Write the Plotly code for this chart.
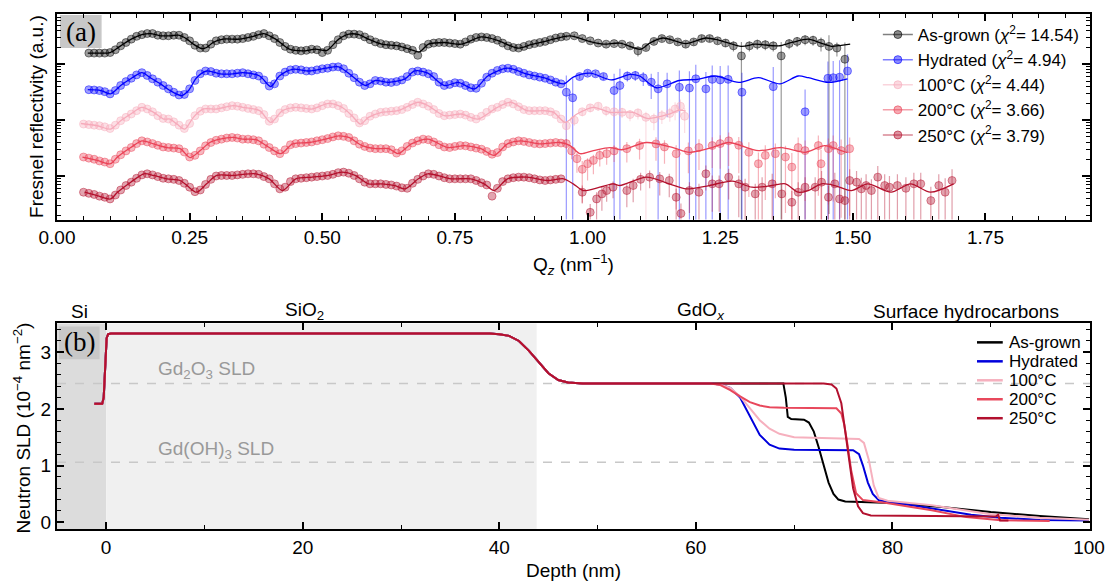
import numpy as np
import plotly.graph_objects as go

# ===================== Panel (a): Fresnel reflectivity (log10, offset, a.u.) =====================
q_lo_a = [0.06, 0.07, 0.08, 0.09, 0.10, 0.11, 0.12, 0.13, 0.14, 0.15,
          0.16, 0.17, 0.18, 0.19, 0.20, 0.21, 0.22, 0.23, 0.24, 0.25,
          0.26, 0.27, 0.28, 0.29, 0.30, 0.31, 0.32, 0.33, 0.34, 0.35,
          0.36, 0.37, 0.38, 0.39, 0.40, 0.41, 0.42, 0.43, 0.44, 0.45,
          0.46, 0.47, 0.48, 0.49, 0.50, 0.51, 0.52, 0.53, 0.54, 0.55,
          0.56, 0.57, 0.58, 0.59, 0.60, 0.61, 0.62, 0.63, 0.64, 0.65,
          0.66, 0.67, 0.68, 0.69, 0.70, 0.71, 0.72, 0.73, 0.74, 0.75,
          0.76, 0.77, 0.78, 0.79, 0.80, 0.81, 0.82, 0.83, 0.84, 0.85,
          0.86, 0.87, 0.88, 0.89, 0.90, 0.91, 0.92, 0.93, 0.94, 0.95]
q_lo_b = [0.05] + q_lo_a

r_lo_asg = [2.20, 2.20, 2.20, 2.20, 2.21, 2.26, 2.33, 2.39, 2.45, 2.50,
            2.53, 2.55, 2.55, 2.52, 2.51, 2.51, 2.52, 2.52, 2.48, 2.42,
            2.34, 2.29, 2.29, 2.36, 2.42, 2.44, 2.45, 2.45, 2.45, 2.46,
            2.48, 2.50, 2.53, 2.55, 2.51, 2.46, 2.39, 2.32, 2.27, 2.25,
            2.24, 2.25, 2.27, 2.26, 2.21, 2.25, 2.35, 2.44, 2.51, 2.54,
            2.54, 2.53, 2.49, 2.44, 2.40, 2.37, 2.35, 2.34, 2.33, 2.31,
            2.28, 2.25, 2.16, 2.30, 2.36, 2.38, 2.39, 2.39, 2.38, 2.37,
            2.36, 2.40, 2.45, 2.48, 2.49, 2.48, 2.46, 2.43, 2.38, 2.33,
            2.30, 2.29, 2.32, 2.35, 2.37, 2.39, 2.41, 2.44, 2.47, 2.49]
r_lo_hyd = [1.545, 1.54, 1.53, 1.51, 1.47, 1.53, 1.62, 1.69, 1.75, 1.81,
            1.85, 1.80, 1.74, 1.68, 1.62, 1.56, 1.50, 1.45, 1.46, 1.56,
            1.71, 1.83, 1.88, 1.87, 1.84, 1.83, 1.83, 1.83, 1.84, 1.85,
            1.83, 1.81, 1.79, 1.72, 1.61, 1.65, 1.79, 1.86, 1.90, 1.91,
            1.90, 1.88, 1.88, 1.90, 1.92, 1.93, 1.95, 1.955, 1.92, 1.84,
            1.76, 1.68, 1.62, 1.65, 1.71, 1.70, 1.68, 1.675, 1.69, 1.72,
            1.78, 1.86, 1.88, 1.86, 1.83, 1.78, 1.68, 1.62, 1.64, 1.67,
            1.66, 1.62, 1.58, 1.57, 1.66, 1.77, 1.84, 1.89, 1.92, 1.93,
            1.91, 1.87, 1.84, 1.81, 1.79, 1.77, 1.75, 1.72, 1.68, 1.65]
r_lo_100 = [0.93,
            0.92, 0.91, 0.90, 0.88, 0.85, 0.91, 0.99, 1.05, 1.11, 1.17,
            1.23, 1.20, 1.15, 1.08, 1.03, 1.02, 0.97, 0.91, 0.85, 0.94,
            1.08, 1.16, 1.20, 1.20, 1.20, 1.22, 1.24, 1.26, 1.25, 1.23,
            1.21, 1.19, 1.17, 1.10, 0.98, 1.02, 1.13, 1.19, 1.22, 1.23,
            1.22, 1.21, 1.20, 1.22, 1.26, 1.29, 1.29, 1.26, 1.21, 1.12,
            1.04, 0.95, 0.99, 1.07, 1.11, 1.14, 1.15, 1.16, 1.17, 1.19,
            1.23, 1.28, 1.32, 1.29, 1.25, 1.19, 1.12, 1.08, 1.09, 1.10,
            1.11, 1.09, 1.05, 1.02, 1.07, 1.14, 1.20, 1.23, 1.28, 1.32,
            1.29, 1.24, 1.19, 1.17, 1.17, 1.17, 1.17, 1.15, 1.10, 1.02]
r_lo_200 = [0.34,
            0.32, 0.30, 0.27, 0.25, 0.22, 0.30, 0.38, 0.45, 0.51, 0.58,
            0.63, 0.61, 0.58, 0.55, 0.52, 0.51, 0.50, 0.49, 0.43, 0.34,
            0.37, 0.45, 0.54, 0.60, 0.64, 0.66, 0.68, 0.69, 0.68, 0.66,
            0.66, 0.65, 0.63, 0.57, 0.51, 0.45, 0.40, 0.47, 0.56, 0.58,
            0.59, 0.60, 0.61, 0.63, 0.65, 0.67, 0.70, 0.72, 0.71, 0.69,
            0.63, 0.57, 0.53, 0.50, 0.49, 0.49, 0.49, 0.47, 0.41, 0.45,
            0.53, 0.59, 0.63, 0.66, 0.65, 0.61, 0.56, 0.52, 0.51, 0.53,
            0.545, 0.54, 0.52, 0.50, 0.48, 0.44, 0.39, 0.42, 0.52, 0.58,
            0.61, 0.63, 0.62, 0.60, 0.58, 0.575, 0.58, 0.59, 0.60, 0.59]
r_lo_250 = [-0.29,
            -0.31, -0.33, -0.36, -0.38, -0.41, -0.34, -0.25, -0.17, -0.11, -0.04,
            0.02, 0.04, 0.02, -0.01, -0.04, -0.05, -0.06, -0.08, -0.13, -0.20,
            -0.28, -0.25, -0.15, -0.06, 0.00, 0.01, 0.01, 0.01, 0.02, 0.03,
            0.04, 0.04, 0.03, -0.01, -0.05, -0.14, -0.23, -0.20, -0.10, -0.05,
            -0.04, -0.03, -0.02, -0.01, 0.00, 0.01, 0.03, 0.06, 0.07, 0.05,
            0.01, -0.05, -0.11, -0.14, -0.14, -0.14, -0.15, -0.16, -0.18, -0.21,
            -0.22, -0.13, -0.06, 0.00, 0.04, 0.03, 0.00, -0.03, -0.05, -0.05,
            -0.05, -0.05, -0.05, -0.08, -0.12, -0.16, -0.36, -0.22, -0.10, -0.05,
            -0.03, -0.02, -0.02, -0.03, -0.05, -0.07, -0.08, -0.07, -0.06, -0.05]

# high-Q data with error bars
q_hi_asg = [0.96, 0.975, 0.99, 1.005, 1.02, 1.035, 1.05, 1.065, 1.08, 1.095, 1.11, 1.125,
            1.14, 1.155, 1.17, 1.185, 1.20, 1.215, 1.23, 1.245, 1.26, 1.275, 1.29, 1.305,
            1.32, 1.335, 1.35, 1.365, 1.38, 1.395, 1.41, 1.425, 1.44, 1.455, 1.47, 1.485]
r_hi_asg = [2.50, 2.51, 2.46, 2.42, 2.38, 2.36, 2.37, 2.36, 2.33, 2.24, 2.30, 2.41,
            2.46, 2.44, 2.40, 2.36, 2.40, 2.46, 2.46, 2.42, 2.38, 2.33, 2.15, 2.33,
            2.36, 2.35, 2.33, 2.15, 2.37, 2.41, 2.44, 2.43, 2.38, 2.32, 2.29, 2.09]
eu_hi_asg = [0.03, 0.03, 0.03, 0.03, 0.03, 0.04, 0.04, 0.04, 0.05, 0.08, 0.05, 0.05,
             0.05, 0.05, 0.05, 0.06, 0.06, 0.06, 0.06, 0.06, 0.07, 0.08, 0.25, 0.08,
             0.08, 0.08, 0.08, 0.25, 0.08, 0.08, 0.08, 0.08, 0.10, 0.20, 0.10, 0.30]
ed_hi_asg = [0.03, 0.03, 0.03, 0.03, 0.03, 0.04, 0.04, 0.04, 0.05, 0.10, 0.05, 0.05,
             0.05, 0.05, 0.05, 0.06, 0.06, 0.06, 0.06, 0.06, 0.07, 0.10, 3.00, 0.10,
             0.10, 0.10, 0.10, 3.00, 0.10, 0.10, 0.10, 0.10, 0.15, 3.00, 0.15, 3.00]

q_hi_hyd = [0.96, 0.972, 0.985, 1.00, 1.015, 1.03, 1.05, 1.061, 1.075, 1.09, 1.105, 1.12,
            1.133, 1.15, 1.173, 1.192, 1.204, 1.223, 1.235, 1.25, 1.265, 1.291, 1.35, 1.41,
            1.453, 1.463, 1.475, 1.49]
r_hi_hyd = [1.50, 1.40, 1.78, 1.84, 1.83, 1.78, 1.53, 1.62, 1.79, 1.80, 1.76, 1.68,
            1.56, 1.65, 1.59, 1.575, 1.74, 1.56, 1.73, 1.72, 1.73, 1.50, 1.60, 1.15,
            1.75, 1.76, 1.77, 1.88]
eu_hi_hyd = [0.30, 0.35, 0.05, 0.05, 0.05, 0.06, 0.30, 0.30, 0.08, 0.08, 0.10, 0.15,
             0.30, 0.20, 0.30, 0.30, 0.25, 0.30, 0.25, 0.25, 0.25, 0.35, 0.35, 0.40,
             0.30, 0.30, 0.30, 0.30]
ed_hi_hyd = [3.0, 3.0, 0.05, 0.05, 0.05, 0.06, 3.0, 3.0, 0.10, 0.10, 0.15, 0.30,
             3.0, 0.60, 3.0, 3.0, 3.0, 3.0, 3.0, 3.0, 3.0, 3.0, 3.0, 3.0,
             3.0, 3.0, 3.0, 3.0]

q_hi_100 = [0.96, 0.975, 0.99, 1.005, 1.02, 1.035, 1.05, 1.065, 1.08, 1.095, 1.11, 1.125,
            1.14, 1.155, 1.165, 1.175, 1.183]
r_hi_100 = [0.90, 1.00, 1.15, 1.22, 1.25, 1.17, 1.15, 1.14, 1.10, 1.13, 1.05, 1.02,
            1.08, 1.12, 1.20, 1.25, 1.07]
eu_hi_100 = [0.08, 0.08, 0.06, 0.06, 0.06, 0.07, 0.07, 0.08, 0.08, 0.08, 0.10, 0.10,
             0.10, 0.10, 0.12, 0.12, 0.15]
ed_hi_100 = [0.40, 0.10, 0.08, 0.08, 0.08, 0.10, 0.10, 0.10, 0.12, 0.12, 3.00, 0.20,
             0.15, 0.15, 0.20, 0.20, 0.30]

q_hi_200 = [0.96, 0.97, 0.98, 0.99, 1.00, 1.011, 1.023, 1.036, 1.05, 1.074, 1.098, 1.129,
            1.145, 1.167, 1.19, 1.21, 1.235, 1.25, 1.266, 1.285, 1.304, 1.322, 1.335, 1.354,
            1.373, 1.385, 1.397, 1.41, 1.435, 1.44, 1.454, 1.463, 1.478, 1.494]
r_hi_200 = [0.58, 0.45, 0.31, 0.12, 0.22, 0.28, 0.37, 0.40, 0.45, 0.49, 0.545, 0.575,
            0.52, 0.40, 0.45, 0.51, 0.545, 0.58, 0.63, 0.55, 0.425, 0.22, 0.37, 0.40,
            0.34, 0.16, 0.51, 0.455, 0.545, 0.22, 0.49, 0.545, 0.455, 0.49]
eu_hi_200 = [0.08, 0.08, 0.10, 0.15, 0.10, 0.10, 0.10, 0.10, 0.10, 0.12, 0.12, 0.12,
             0.12, 0.15, 0.15, 0.15, 0.15, 0.15, 0.15, 0.15, 0.18, 0.20, 0.18, 0.18,
             0.20, 0.25, 0.18, 0.18, 0.18, 0.25, 0.18, 0.18, 0.20, 0.20]
ed_hi_200 = [0.10, 0.15, 0.25, 0.60, 0.30, 0.25, 0.20, 0.20, 0.20, 0.25, 0.25, 0.30,
             0.30, 1.00, 0.40, 0.40, 0.40, 0.45, 0.45, 0.50, 0.80, 1.50, 0.80, 0.80,
             1.00, 2.00, 0.80, 0.90, 0.90, 2.00, 1.00, 1.00, 1.20, 1.20]

q_hi_250 = [0.99, 1.005, 1.017, 1.027, 1.036, 1.048, 1.074, 1.086, 1.10, 1.117, 1.136, 1.154,
            1.167, 1.176, 1.192, 1.21, 1.223, 1.235, 1.248, 1.266, 1.285, 1.297, 1.316, 1.329,
            1.348, 1.366, 1.385, 1.397, 1.41, 1.429, 1.441, 1.454, 1.466, 1.475, 1.485, 1.494,
            1.507, 1.516, 1.525, 1.535, 1.547, 1.56, 1.569, 1.584, 1.60, 1.615, 1.628, 1.647,
            1.662, 1.674, 1.687]
r_hi_250 = [-0.29, -0.65, -0.41, -0.32, -0.26, -0.20, -0.26, -0.17, -0.06, -0.02, -0.05, -0.08,
            -0.38, -0.67, -0.26, -0.29, 0.04, -0.14, -0.14, -0.02, -0.14, -0.20, -0.32, -0.20,
            -0.14, -0.32, -0.47, -0.29, -0.20, -0.20, -0.11, -0.38, -0.14, -0.41, -0.44, -0.08,
            -0.11, -0.23, -0.17, -0.26, -0.02, -0.17, -0.20, -0.17, -0.22, -0.14, -0.14, -0.44,
            -0.17, -0.29, -0.08]
eu_hi_250 = [0.12, 0.15, 0.12, 0.12, 0.10, 0.10, 0.12, 0.12, 0.12, 0.12, 0.12, 0.12,
             0.15, 0.18, 0.15, 0.15, 0.15, 0.15, 0.15, 0.15, 0.15, 0.15, 0.18, 0.18,
             0.18, 0.18, 0.20, 0.18, 0.18, 0.18, 0.20, 0.20, 0.20, 0.20, 0.20, 0.20,
             0.20, 0.20, 0.20, 0.20, 0.20, 0.20, 0.20, 0.20, 0.20, 0.20, 0.20, 0.25,
             0.20, 0.25, 0.20]
ed_hi_250 = [0.2, 0.5, 0.4, 0.3, 0.2, 0.2, 0.3, 0.3, 0.2, 0.2, 0.3, 0.3,
             0.6, 0.8, 0.4, 0.5, 0.3, 0.5, 0.5, 0.4, 0.6, 0.6, 1.0, 0.7,
             0.8, 1.0, 1.5, 0.8, 0.9, 0.9, 1.0, 1.5, 1.0, 1.5, 1.5, 1.0,
             1.2, 1.5, 1.2, 1.5, 1.2, 1.5, 1.5, 1.5, 1.5, 1.5, 1.5, 2.0,
             1.5, 2.0, 1.5]

# fitted curves
q_fit_asg = [0.058, 0.08, 0.10, 0.12, 0.14, 0.16, 0.176, 0.195, 0.213, 0.229, 0.245, 0.257,
             0.273, 0.282, 0.294, 0.313, 0.344, 0.37, 0.39, 0.412, 0.438, 0.463, 0.487, 0.509,
             0.531, 0.55, 0.569, 0.587, 0.612, 0.643, 0.668, 0.683, 0.70, 0.73, 0.762, 0.80,
             0.83, 0.868, 0.893, 0.924, 0.967, 1.00, 1.03, 1.061, 1.10, 1.117, 1.142, 1.185,
             1.223, 1.248, 1.29, 1.316, 1.36, 1.385, 1.416, 1.44, 1.46, 1.478, 1.495]
r_fit_asg = [2.20, 2.20, 2.21, 2.33, 2.45, 2.53, 2.55, 2.51, 2.51, 2.52, 2.45, 2.36,
             2.28, 2.30, 2.39, 2.45, 2.45, 2.50, 2.55, 2.45, 2.27, 2.24, 2.27, 2.25,
             2.45, 2.54, 2.53, 2.45, 2.36, 2.33, 2.26, 2.22, 2.36, 2.39, 2.36, 2.49,
             2.43, 2.29, 2.35, 2.42, 2.51, 2.42, 2.36, 2.38, 2.27, 2.38, 2.47, 2.37,
             2.47, 2.43, 2.32, 2.36, 2.33, 2.39, 2.45, 2.38, 2.32, 2.34, 2.36]
q_fit_hyd = [0.058, 0.083, 0.101, 0.12, 0.139, 0.16, 0.176, 0.195, 0.213, 0.235, 0.248, 0.263,
             0.282, 0.307, 0.332, 0.35, 0.382, 0.403, 0.419, 0.444, 0.475, 0.506, 0.531, 0.556,
             0.581, 0.60, 0.625, 0.656, 0.674, 0.699, 0.73, 0.756, 0.787, 0.812, 0.849, 0.886,
             0.917, 0.955, 0.973, 1.005, 1.045, 1.08, 1.098, 1.13, 1.173, 1.207, 1.241, 1.285,
             1.322, 1.363, 1.397, 1.416, 1.454, 1.49]
r_fit_hyd = [1.545, 1.53, 1.47, 1.62, 1.74, 1.85, 1.76, 1.65, 1.53, 1.44, 1.53, 1.76,
             1.88, 1.83, 1.83, 1.85, 1.79, 1.60, 1.79, 1.91, 1.88, 1.93, 1.955, 1.79,
             1.62, 1.71, 1.675, 1.74, 1.88, 1.84, 1.62, 1.675, 1.56, 1.79, 1.93, 1.825,
             1.76, 1.65, 1.77, 1.84, 1.72, 1.82, 1.79, 1.58, 1.71, 1.73, 1.79, 1.675,
             1.76, 1.65, 1.79, 1.76, 1.675, 1.74]
q_fit_100 = [0.045, 0.076, 0.101, 0.12, 0.139, 0.16, 0.182, 0.201, 0.213, 0.226, 0.241, 0.257,
             0.276, 0.301, 0.332, 0.35, 0.382, 0.403, 0.425, 0.45, 0.481, 0.512, 0.537, 0.556,
             0.572, 0.587, 0.612, 0.643, 0.681, 0.699, 0.73, 0.762, 0.793, 0.83, 0.855, 0.886,
             0.917, 0.936, 0.958, 0.98, 1.011, 1.042, 1.061, 1.086, 1.113, 1.154, 1.173, 1.185]
r_fit_100 = [0.94, 0.90, 0.84, 0.99, 1.11, 1.23, 1.14, 1.02, 1.02, 0.93, 0.84, 1.05,
             1.20, 1.20, 1.26, 1.23, 1.17, 0.96, 1.17, 1.23, 1.20, 1.30, 1.23, 1.08,
             0.93, 1.05, 1.14, 1.17, 1.32, 1.26, 1.08, 1.11, 1.02, 1.23, 1.32, 1.17,
             1.17, 1.14, 0.96, 1.11, 1.23, 1.14, 1.14, 1.14, 1.03, 1.11, 1.18, 1.16]
q_fit_200 = [0.048, 0.076, 0.101, 0.114, 0.139, 0.16, 0.182, 0.207, 0.232, 0.251, 0.27, 0.288,
             0.307, 0.332, 0.35, 0.375, 0.40, 0.422, 0.444, 0.475, 0.506, 0.531, 0.55, 0.575,
             0.60, 0.625, 0.643, 0.668, 0.699, 0.737, 0.768, 0.799, 0.824, 0.849, 0.874, 0.911,
             0.948, 0.967, 0.986, 1.011, 1.042, 1.065, 1.111, 1.161, 1.192, 1.235, 1.266, 1.322,
             1.366, 1.41, 1.447, 1.478, 1.49]
r_fit_200 = [0.34, 0.28, 0.22, 0.34, 0.51, 0.63, 0.575, 0.51, 0.49, 0.33, 0.455, 0.60,
             0.66, 0.69, 0.66, 0.65, 0.51, 0.40, 0.575, 0.60, 0.66, 0.72, 0.69, 0.545,
             0.49, 0.49, 0.40, 0.575, 0.66, 0.51, 0.545, 0.49, 0.37, 0.575, 0.63, 0.575,
             0.60, 0.545, 0.40, 0.455, 0.51, 0.47, 0.60, 0.51, 0.425, 0.51, 0.60, 0.455,
             0.51, 0.425, 0.545, 0.455, 0.42]
q_fit_250 = [0.052, 0.076, 0.101, 0.114, 0.139, 0.164, 0.182, 0.207, 0.232, 0.245, 0.263, 0.282,
             0.301, 0.332, 0.35, 0.375, 0.40, 0.425, 0.45, 0.481, 0.512, 0.537, 0.562, 0.587,
             0.612, 0.637, 0.656, 0.681, 0.699, 0.743, 0.78, 0.805, 0.824, 0.849, 0.886, 0.924,
             0.955, 0.973, 0.992, 1.023, 1.048, 1.061, 1.111, 1.154, 1.186, 1.229, 1.273, 1.31,
             1.348, 1.373, 1.397, 1.416, 1.441, 1.466, 1.497, 1.528, 1.572, 1.609, 1.646, 1.69]
r_fit_250 = [-0.29, -0.35, -0.41, -0.29, -0.11, 0.04, 0.01, -0.05, -0.08, -0.17, -0.29, -0.14,
             0.01, 0.01, 0.03, 0.04, -0.05, -0.26, -0.05, -0.02, 0.01, 0.07, 0.01, -0.14,
             -0.14, -0.17, -0.23, -0.05, 0.04, -0.05, -0.05, -0.14, -0.26, -0.05, -0.02, -0.08,
             -0.05, -0.14, -0.26, -0.20, -0.14, -0.17, -0.02, -0.14, -0.23, -0.17, -0.09, -0.20,
             -0.17, -0.14, -0.29, -0.26, -0.14, -0.17, -0.26, -0.14, -0.29, -0.14, -0.29, -0.14]

# ===================== Panel (b): neutron SLD depth profiles =====================
d_common = [-1.2, -0.4, -0.25, -0.1, 0.05, 0.2, 0.5, 39.0, 40.0, 41.0, 42.0, 43.0, 44.0,
            45.0, 46.0, 47.0, 48.5, 60.0]
s_common = [2.09, 2.09, 2.20, 2.80, 3.25, 3.32, 3.33, 3.33, 3.32, 3.29, 3.20, 3.03, 2.82,
            2.63, 2.51, 2.465, 2.45, 2.45]

d_asg = [68.9, 69.15, 69.35, 69.7, 71.0, 71.5, 72.0, 72.5, 73.0, 73.5, 74.0, 74.5, 75.2,
         77.0, 80.0, 85.0, 90.0, 95.0, 100.0]
s_asg = [2.45, 2.20, 1.86, 1.82, 1.81, 1.76, 1.60, 1.32, 1.00, 0.70, 0.50, 0.40, 0.365,
         0.355, 0.34, 0.27, 0.18, 0.11, 0.05]
d_hyd = [61.5, 62.5, 63.5, 64.5, 65.5, 66.5, 67.5, 68.5, 70.0, 76.0, 76.6, 77.0, 77.5,
         78.0, 78.6, 79.5, 82.0, 85.0, 88.0, 91.0, 95.0, 100.0]
s_hyd = [2.45, 2.43, 2.37, 2.20, 1.88, 1.54, 1.37, 1.30, 1.28, 1.27, 1.20, 1.00, 0.70,
         0.50, 0.39, 0.36, 0.30, 0.22, 0.13, 0.08, 0.04, 0.03]
d_100 = [61.5, 62.5, 63.5, 64.5, 65.5, 66.5, 67.5, 68.5, 70.0, 76.6, 77.1, 77.6, 78.1,
         78.6, 79.5, 84.0, 90.0, 95.0, 100.0]
s_100 = [2.45, 2.43, 2.37, 2.22, 2.00, 1.80, 1.65, 1.56, 1.50, 1.47, 1.40, 1.10, 0.65,
         0.43, 0.38, 0.30, 0.14, 0.08, 0.045]
d_200 = [61.5, 62.5, 63.5, 64.5, 65.5, 66.5, 67.5, 69.0, 74.3, 74.8, 75.1, 75.4, 75.8,
         76.3, 77.0, 79.4, 84.0, 87.5, 91.0, 96.0]
s_200 = [2.45, 2.42, 2.33, 2.22, 2.12, 2.06, 2.03, 2.02, 2.01, 1.92, 1.72, 1.40, 0.92,
         0.51, 0.39, 0.34, 0.21, 0.09, 0.035, 0.02]
d_250 = [73.0, 73.8, 74.3, 74.8, 75.2, 75.6, 76.0, 76.5, 77.0, 77.8, 90.5, 90.75, 90.95, 91.8]
s_250 = [2.45, 2.43, 2.36, 2.10, 1.60, 1.05, 0.60, 0.28, 0.16, 0.12, 0.10, 0.13, 0.03, 0.03]

gd2o3_sld = 2.45
gdoh3_sld = 1.06
sio2_end = 43.8

names_a = ["As-grown (<i>χ</i><sup>2</sup>= 14.54)", "Hydrated (<i>χ</i><sup>2</sup>= 4.94)",
           "100°C (<i>χ</i><sup>2</sup>= 4.44)", "200°C (<i>χ</i><sup>2</sup>= 3.66)",
           "250°C (<i>χ</i><sup>2</sup>= 3.79)"]
names_b = ["As-grown", "Hydrated", "100°C", "200°C", "250°C"]

# ===================== styling =====================
W, H = 1117, 582
ML, MR, MT, MB = 57, 18, 13, 53
PW, PH = W - ML - MR, H - MT - MB
FONT = "Liberation Sans, Arial, sans-serif"


def fx(p):
    return (p - ML) / PW


def fy(p):
    return (H - MB - p) / PH


cols = [(0, 0, 0), (0, 0, 255), (246, 170, 186), (234, 66, 86), (179, 16, 44)]
line_cols_b = ["rgb(0,0,0)", "rgb(0,0,220)", "rgb(246,176,190)", "rgb(232,72,92)", "rgb(178,16,46)"]


def rgba(c, a):
    return f"rgba({c[0]},{c[1]},{c[2]},{a})"


fig = go.Figure()

series = [
    (q_lo_a, r_lo_asg, q_hi_asg, r_hi_asg, eu_hi_asg, ed_hi_asg, q_fit_asg, r_fit_asg),
    (q_lo_a, r_lo_hyd, q_hi_hyd, r_hi_hyd, eu_hi_hyd, ed_hi_hyd, q_fit_hyd, r_fit_hyd),
    (q_lo_b, r_lo_100, q_hi_100, r_hi_100, eu_hi_100, ed_hi_100, q_fit_100, r_fit_100),
    (q_lo_b, r_lo_200, q_hi_200, r_hi_200, eu_hi_200, ed_hi_200, q_fit_200, r_fit_200),
    (q_lo_b, r_lo_250, q_hi_250, r_hi_250, eu_hi_250, ed_hi_250, q_fit_250, r_fit_250),
]

for i, (ql, rl, qh, rh, eu, ed, qf, rf) in enumerate(series):
    c = cols[i]
    mk = dict(size=8, color=rgba(c, 0.38), line=dict(color=rgba(c, 0.45), width=1))
    fig.add_trace(go.Scatter(x=qh, y=rh, mode="markers", marker=mk, showlegend=False,
                             error_y=dict(type="data", symmetric=False, array=eu, arrayminus=ed,
                                          color=rgba(c, 0.4), thickness=1.2, width=0),
                             xaxis="x", yaxis="y", hoverinfo="skip"))
    fig.add_trace(go.Scatter(x=ql, y=rl, mode="markers", marker=mk, showlegend=False,
                             xaxis="x", yaxis="y", hoverinfo="skip"))
for i, (ql, rl, qh, rh, eu, ed, qf, rf) in enumerate(series):
    c = cols[i]
    fig.add_trace(go.Scatter(x=qf, y=rf, mode="lines", line=dict(color=rgba(c, 1), width=1.3,
                                                                   shape="spline", smoothing=0.8),
                             showlegend=False, xaxis="x", yaxis="y", hoverinfo="skip"))
for i in range(5):
    c = cols[i]
    fig.add_trace(go.Scatter(x=[None], y=[None], mode="lines+markers", name=names_a[i],
                             marker=dict(size=8, color=rgba(c, 0.45), line=dict(color=rgba(c, 0.6), width=1)),
                             line=dict(color=rgba(c, 0.5), width=1.5), xaxis="x", yaxis="y"))

profiles = [(d_asg, s_asg), (d_hyd, s_hyd), (d_100, s_100), (d_200, s_200), (d_250, s_250)]
for i, (d, s) in enumerate(profiles):
    fig.add_trace(go.Scatter(x=d_common + d, y=s_common + s, mode="lines",
                             line=dict(color=line_cols_b[i], width=2), showlegend=False,
                             xaxis="x2", yaxis="y2", hoverinfo="skip"))

axis_common = dict(showline=True, linecolor="black", linewidth=2, mirror="allticks",
                   ticks="inside", ticklen=7, tickwidth=2, tickcolor="black",
                   showgrid=False, zeroline=False,
                   tickfont=dict(family=FONT, size=19, color="black"))
minor_y_a = [n + np.log10(k) for n in range(-1, 3) for k in range(2, 10)]

fig.update_layout(
    width=W, height=H, margin=dict(l=ML, r=MR, t=MT, b=MB),
    plot_bgcolor="white", paper_bgcolor="white",
    font=dict(family=FONT, size=19, color="black"),
    xaxis=dict(axis_common, domain=[0, 1], anchor="y", range=[0, 1.947], tick0=0, dtick=0.25,
               tickformat=".2f",
               minor=dict(ticks="inside", ticklen=4, tickwidth=1.2, tickcolor="black", dtick=0.05)),
    yaxis=dict(axis_common, domain=[fy(219), 1], anchor="x", range=[-0.78, 2.90],
               tickmode="array", tickvals=[0, 1, 2], showticklabels=False, ticklen=8,
               minor=dict(ticks="inside", ticklen=4, tickwidth=1.2, tickcolor="black",
                          tickmode="array", tickvals=minor_y_a)),
    xaxis2=dict(axis_common, domain=[0, 1], anchor="y2", range=[-5, 100.1], tick0=0, dtick=20,
                minor=dict(ticks="inside", ticklen=4, tickwidth=1.2, tickcolor="black", dtick=10)),
    yaxis2=dict(axis_common, domain=[0, fy(323)], anchor="x2", range=[-0.12, 3.51], tick0=0, dtick=1,
                minor=dict(ticks="inside", ticklen=4, tickwidth=1.2, tickcolor="black", dtick=0.2)),
    legend=dict(x=fx(885), y=fy(16), xanchor="left", yanchor="top", bgcolor="rgba(0,0,0,0)",
                font=dict(family=FONT, size=17, color="black"), tracegroupgap=0),
)

shapes = [
    dict(type="rect", xref="x2", yref="y2 domain", x0=-5, x1=0, y0=0, y1=1,
         fillcolor="#dcdcdc", line=dict(width=0), layer="below"),
    dict(type="rect", xref="x2", yref="y2 domain", x0=0, x1=sio2_end, y0=0, y1=1,
         fillcolor="#f0f0f0", line=dict(width=0), layer="below"),
    dict(type="line", xref="x2 domain", yref="y2", x0=0, x1=1, y0=gd2o3_sld, y1=gd2o3_sld,
         line=dict(color="#c8c8c8", width=1.5, dash="dash"), layer="below"),
    dict(type="line", xref="x2 domain", yref="y2", x0=0, x1=1, y0=gdoh3_sld, y1=gdoh3_sld,
         line=dict(color="#c8c8c8", width=1.5, dash="dash"), layer="below"),
    dict(type="rect", xref="paper", yref="paper", x0=fx(60), x1=fx(102), y0=fy(47), y1=fy(14),
         fillcolor="#c8c8c8", line=dict(width=0), layer="below"),
    dict(type="rect", xref="paper", yref="paper", x0=fx(59), x1=fx(100), y0=fy(359), y1=fy(326),
         fillcolor="#c8c8c8", line=dict(width=0), layer="below"),
]
leg_rows = [342, 361, 380, 399, 418]
for i, yy in enumerate(leg_rows):
    shapes.append(dict(type="line", xref="paper", yref="paper", x0=fx(985), x1=fx(1011),
                       y0=fy(yy), y1=fy(yy), line=dict(color=line_cols_b[i], width=2.5)))
fig.update_layout(shapes=shapes)


def ann(text, x, y, size=19, color="black", xanchor="center", angle=0, family=FONT):
    return dict(text=text, x=fx(x), y=fy(y), xref="paper", yref="paper", showarrow=False,
                xanchor=xanchor, yanchor="middle", textangle=angle,
                font=dict(family=family, size=size, color=color))


annotations = [
    ann("(a)", 81, 31, size=27, family="Liberation Serif, Times New Roman, serif"),
    ann("(b)", 80, 342, size=27, family="Liberation Serif, Times New Roman, serif"),
    ann("Fresnel reflectivity (a.u.)", 37, 116, angle=-90),
    ann("Q<sub><i>z</i></sub> (nm<sup>−1</sup>)", 578, 264),
    ann("Neutron SLD (10<sup>−4</sup> nm<sup>−2</sup>)", 22, 428, angle=-90),
    ann("Depth (nm)", 578, 571),
    ann("Si", 80, 311),
    ann("SiO<sub>2</sub>", 307, 311),
    ann("GdO<sub><i>x</i></sub>", 707, 311),
    ann("Surface hydrocarbons", 974, 311),
    ann("Gd<sub>2</sub>O<sub>3</sub> SLD", 157, 370, color="#999999", xanchor="left"),
    ann("Gd(OH)<sub>3</sub> SLD", 157, 450, color="#999999", xanchor="left"),
]
for i, yy in enumerate(leg_rows):
    annotations.append(ann(names_b[i], 1015, yy, size=17, xanchor="left"))
fig.update_layout(annotations=annotations)

fig.write_html("out.html")
